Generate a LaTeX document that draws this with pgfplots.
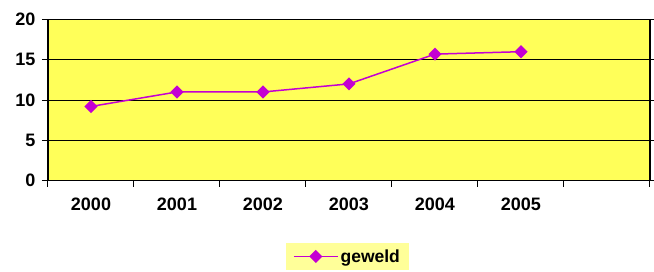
\documentclass[border=0pt]{standalone}
\usepackage{pgfplots}
\pgfplotsset{compat=1.18}
\usepackage{fontspec}
\setmainfont{Liberation Sans}[BoldFont={Liberation Sans Bold}]
\definecolor{plotbg}{RGB}{255,255,89}
\definecolor{legbg}{RGB}{255,255,153}
\definecolor{series}{RGB}{196,0,210}
\begin{document}
\begin{tikzpicture}
\path[use as bounding box] (0pt,0pt) rectangle (654pt,271pt);
\begin{axis}[
  at={(48pt,90.5pt)}, anchor=south west,
  width=602pt, height=161pt, scale only axis,
  xmin=-0.5, xmax=6.5, ymin=0, ymax=20,
  axis background/.style={fill=plotbg},
  axis line style={line width=1.2pt, black},
  xtick={0,1,2,3,4,5},
  xticklabels={2000,2001,2002,2003,2004,2005},
  minor xtick={-0.5,0.5,1.5,2.5,3.5,4.5,5.5,6.5},
  ytick={0,5,10,15,20},
  ymajorgrids,
  grid style={black, line width=1pt},
  tick align=outside,
  major tick length=6pt,
  minor tick length=6pt,
  x tick style={draw=none},
  minor x tick style={draw=black, line width=1pt},
  y tick style={black, line width=1pt},
  /pgf/number format/assume math mode=true,
  tick label style={font=\bfseries\fontsize{18}{21}\selectfont},
  xticklabel style={yshift=-8pt},
  yticklabel style={xshift=-3pt},
  axis x line*=bottom,
  legend style={at={(0.4975,-0.472)}, anchor=center, fill=legbg, draw=none,
    font=\bfseries\fontsize{17.5}{20}\selectfont, inner xsep=7pt, inner ysep=4pt},
  legend image code/.code={\draw[mark repeat=2,mark phase=2,#1] plot coordinates {(0pt,0pt) (22pt,0pt) (44pt,0pt)};},
]
\draw[line width=1.2pt] (rel axis cs:0,0) rectangle (rel axis cs:1,1);
\addplot[color=series, line width=1.5pt, mark=square*, mark size=3.9pt,
  mark options={rotate=45, fill=series}]
  coordinates {(0,9.2) (1,11) (2,11) (3,12) (4,15.7) (5,16)};
\addlegendentry{geweld}
\end{axis}
\end{tikzpicture}
\end{document}
